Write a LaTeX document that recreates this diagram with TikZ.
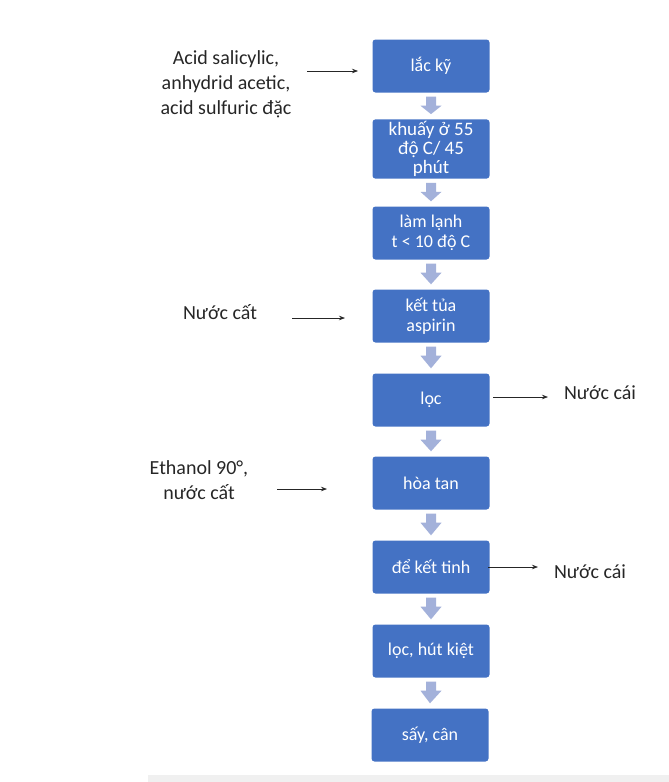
\documentclass[tikz,border=0pt]{standalone}
\usepackage{fontspec}
\setmainfont{Carlito}
\usetikzlibrary{calc,arrows.meta}
\definecolor{boxblue}{HTML}{4472C4}
\definecolor{arrowblue}{HTML}{A3B1DA}
\definecolor{labelgray}{HTML}{262626}
\definecolor{stripgray}{HTML}{F0F0F0}
\tikzset{
  stepbox/.style={fill=boxblue, rounded corners=3pt, minimum width=117pt, minimum height=53pt,
    inner sep=2pt, text=white, align=center, font=\fontsize{18}{20}\selectfont},
  sidelabel/.style={text=labelgray, align=center, inner sep=0pt, font=\fontsize{20}{25}\selectfont},
  sidearrow/.style={draw=black!85, line width=0.7pt, -{Stealth[length=6pt,width=4.5pt]}},
}
\newcommand{\blockarrow}[2]{%
  \fill[arrowblue] ($(#1.south)+(-5,4)$) -- ($(#1.south)+(5,4)$) -- ($(#1.south)+(5,13)$)
    -- ($(#1.south)+(10.5,13)$) -- ($(#2.north)+(0,-5)$) -- ($(#1.south)+(-10.5,13)$)
    -- ($(#1.south)+(-5,13)$) -- cycle;}
\begin{document}
\begin{tikzpicture}[x=1pt,y=-1pt]
\useasboundingbox (0,0) rectangle (669,782);
\fill[stripgray] (148,775) rectangle (669,782);
% boxes
\node[stepbox] (b1) at (431,66) {lắc kỹ};
\node[stepbox, font=\fontsize{19}{19}\selectfont] (b2) at (431,149) {khuấy ở 55\\độ C/ 45\\phút};
\node[stepbox] (b3) at (431,233) {làm lạnh\\t < 10 độ C};
\node[stepbox] (b4) at (431,316) {kết tủa\\aspirin};
\node[stepbox] (b5) at (431,400) {lọc};
\node[stepbox] (b6) at (431,483) {hòa tan};
\node[stepbox] (b7) at (431,567) {để kết tinh};
\node[stepbox] (b8) at (431,651) {lọc, hút kiệt};
\node[stepbox] (b9) at (430,735) {sấy, cân};
% block arrows
\blockarrow{b1}{b2}
\blockarrow{b2}{b3}
\blockarrow{b3}{b4}
\blockarrow{b4}{b5}
\blockarrow{b5}{b6}
\blockarrow{b6}{b7}
\blockarrow{b7}{b8}
\blockarrow{b8}{b9}
% side labels
\node[sidelabel] (l1) at (226,84) {Acid salicylic,\\anhydrid acetic,\\acid sulfuric đặc};
\node[sidelabel] (l2) at (220,312) {Nước cất};
\node[sidelabel] (r1) at (600,393) {Nước cái};
\node[sidelabel] (l3) at (199,480) {Ethanol 90°,\\nước cất};
\node[sidelabel] (r2) at (590,572) {Nước cái};
% side arrows
\coordinate (a1s) at (307,71); \coordinate (a1e) at (358,71);
\coordinate (a2s) at (292,318); \coordinate (a2e) at (345,318);
\coordinate (a3s) at (493,397); \coordinate (a3e) at (548,397);
\coordinate (a4s) at (277,489); \coordinate (a4e) at (327,489);
\coordinate (a5s) at (488,567); \coordinate (a5e) at (538,567);
\draw[sidearrow] (a1s) -- (a1e);
\draw[sidearrow] (a2s) -- (a2e);
\draw[sidearrow] (a3s) -- (a3e);
\draw[sidearrow] (a4s) -- (a4e);
\draw[sidearrow] (a5s) -- (a5e);
\end{tikzpicture}
\end{document}
